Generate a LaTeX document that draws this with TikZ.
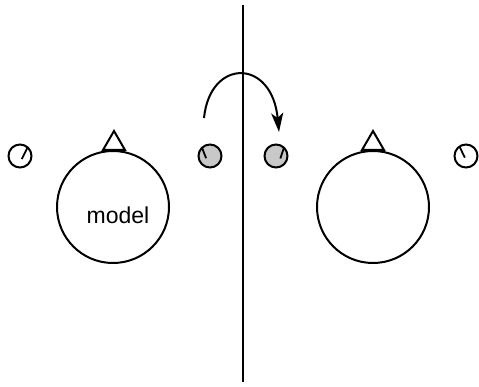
\documentclass[tikz,border=0pt]{standalone}
\usepackage{fontspec}
\setmainfont{Liberation Sans}
\usetikzlibrary{arrows.meta,calc}
\definecolor{dialgray}{RGB}{200,200,200}
\tikzset{
  big/.style={circle,draw=black,line width=2pt,minimum size=112pt,inner sep=0pt,fill=white},
  dialw/.style={circle,draw=black,line width=2pt,minimum size=23pt,inner sep=0pt,fill=white},
  dialg/.style={dialw,fill=dialgray},
  tick/.style={line width=1.8pt},
  ln/.style={line width=2pt},
}
\begin{document}
\begin{tikzpicture}[x=1pt,y=-1pt]
\useasboundingbox (0,0) rectangle (479,387);
% divider
\coordinate (vtop) at (243,5);
\coordinate (vbot) at (243,382);
\draw[ln] (vtop) -- (vbot);
% big circles with triangles
\node[big] (mL) at (113,207) {};
\node[big] (mR) at (373,207) {};
\draw[ln,line join=miter] (103,150) -- (114,131) -- (125,150) -- cycle;
\draw[ln,line join=miter] (362,150) -- (373,131) -- (384,150) -- cycle;
\node[font=\fontsize{23}{26}\selectfont] (lab) at (118,215) {model};
% small dials
\node[dialw] (d1) at (20,156) {};
\node[dialg] (d2) at (210,156) {};
\node[dialg] (d3) at (276,156) {};
\node[dialw] (d4) at (466,156) {};
\draw[tick] ($(d1.center)+(-48:11)$) -- ($(d1.center)+(60:3.5)$);
\draw[tick] ($(d4.center)+(-125:11)$) -- ($(d4.center)+(125:2)$);
\draw[tick] ($(d2.center)+(-135:11)$) -- ($(d2.center)+(150:4.5)$);
\draw[tick] ($(d3.center)+(-45:11)$) -- ($(d3.center)+(30:5)$);
% curved arrow
\coordinate (as) at (204,118);
\coordinate (ae) at (279,132);
\draw[ln,-{Stealth[length=19pt,width=12pt,inset=5pt]}] (as) .. controls (210,58) and (272,58) .. (ae);
\end{tikzpicture}
\end{document}
